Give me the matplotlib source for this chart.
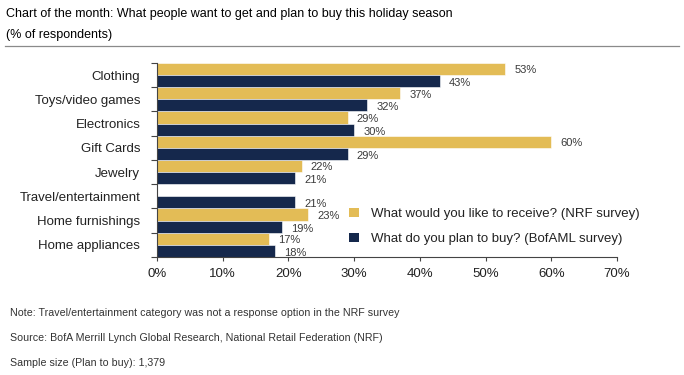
import numpy as np
import matplotlib
matplotlib.use("Agg")
import matplotlib.pyplot as plt
from matplotlib.patches import Patch

plt.rcParams["font.family"] = ["Liberation Sans", "DejaVu Sans"]

# data (% of respondents)
categories = ["Clothing", "Toys/video games", "Electronics", "Gift Cards",
              "Jewelry", "Travel/entertainment", "Home furnishings", "Home appliances"]
receive = [53, 37, 29, 60, 22, None, 23, 17]   # NRF survey
buy = [43, 32, 30, 29, 21, 21, 19, 18]         # BofAML survey
x_ticks = [0, 10, 20, 30, 40, 50, 60, 70]

YELLOW = "#E3BC56"
NAVY = "#15284C"
INK = "#3a3a3a"

fig = plt.figure(figsize=(6.84, 3.75), dpi=100, facecolor="white")
ax = fig.add_axes([0.2295, 0.3147, 0.6725, 0.5173])

n = len(categories)
y = np.arange(n)
h = 0.5
rec_vals = [v if v is not None else 0 for v in receive]
ax.barh(y - h / 2, rec_vals, height=h, color=YELLOW, edgecolor="white", linewidth=0.4)
ax.barh(y + h / 2, buy, height=h, color=NAVY, edgecolor="white", linewidth=0.4)

for yi, v in zip(y, receive):
    if v is not None:
        ax.text(v + 1.4, yi - h / 2 + 0.05, f"{v}%", va="center", ha="left",
                fontsize=8, color=INK)
for yi, v in zip(y, buy):
    ax.text(v + 1.4, yi + h / 2 + 0.08, f"{v}%", va="center", ha="left",
            fontsize=8, color=INK)

ax.set_ylim(n - 0.5, -0.5)
ax.set_xlim(0, 70)
ax.set_xticks(x_ticks)
ax.set_xticklabels([f"{t}%" for t in x_ticks], fontsize=9.5, color="#222222")
ax.set_yticks(np.arange(n + 1) - 0.5)
ax.set_yticklabels([])
ax.set_yticks(y, minor=True)
ax.set_yticklabels(categories, minor=True, fontsize=9.5, color="#222222")
ax.tick_params(axis="y", which="major", direction="out", length=4, width=0.8, color="#444444")
ax.tick_params(axis="y", which="minor", length=0, pad=12)
ax.tick_params(axis="x", direction="out", length=3, width=0.8, color="#444444", pad=5)
for side in ("top", "right"):
    ax.spines[side].set_visible(False)
for side in ("left", "bottom"):
    ax.spines[side].set_color("#444444")
    ax.spines[side].set_linewidth(0.8)

handles = [Patch(facecolor=YELLOW, label="What would you like to receive? (NRF survey)"),
           Patch(facecolor=NAVY, label="What do you plan to buy? (BofAML survey)")]
ax.legend(handles=handles, loc="lower right", bbox_to_anchor=(1.075, -0.0), frameon=False,
          fontsize=9.5, labelcolor="#222222", handlelength=0.75, handleheight=0.75,
          handletextpad=0.9, labelspacing=0.95)

# header
fig.text(0.009, 0.978, "Chart of the month: What people want to get and plan to buy this holiday season",
         ha="left", va="top", fontsize=9.0, color="#000000")
fig.text(0.009, 0.923, "(% of respondents)", ha="left", va="top", fontsize=9.0,
         color="#000000")
fig.add_artist(plt.Line2D([0.007, 0.993], [0.877, 0.877], color="#8a8a8a", linewidth=0.9))

# footnotes
notes = ["Note: Travel/entertainment category was not a response option in the NRF survey",
         "Source: BofA Merrill Lynch Global Research, National Retail Federation (NRF)",
         "Sample size (Plan to buy): 1,379"]
for i, t in enumerate(notes):
    fig.text(0.014, 0.165 - i * 0.066, t, ha="left", va="center", fontsize=7.7, color="#333333")

fig.savefig("out.png", dpi=100, facecolor="white")
